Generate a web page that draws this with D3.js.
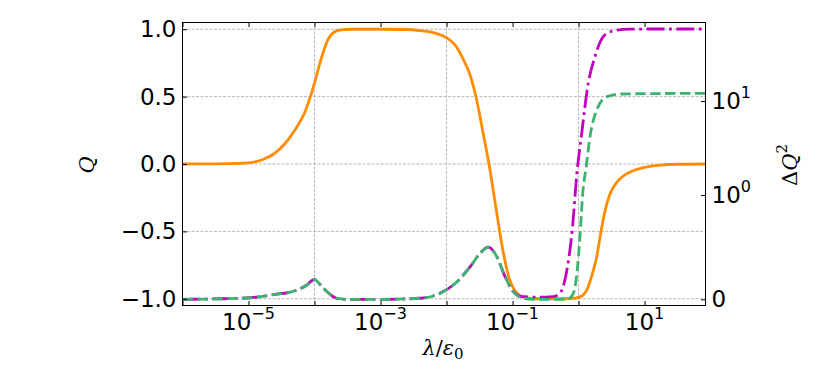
<!DOCTYPE html>
<html>
<head>
<meta charset="utf-8">
<script src="https://cdn.jsdelivr.net/npm/d3@7/dist/d3.min.js"></script>
<style>
  body { margin: 0; background: #fff; }
  .tick-label { font-family: "DejaVu Sans", sans-serif; font-size: 23px; fill: #000; }
  .math { font-family: "DejaVu Serif", "Liberation Serif", serif; font-size: 21px; fill: #000; }
</style>
</head>
<body>
<div id="chart"></div>
<script>
// exponents of lambda/eps0 (log10) and values
var qExp = [-6.0, -5.5, -5.2, -5.0, -4.8, -4.6, -4.45, -4.3, -4.15, -4.0, -3.9, -3.8, -3.7, -3.6, -3.45,
            -3.0, -2.6, -2.4, -2.2, -2.05, -1.95, -1.85, -1.75, -1.65, -1.55, -1.45, -1.35, -1.25, -1.15, -1.05, -0.95, -0.85, -0.7, -0.5,
            -0.2, -0.05, 0.05, 0.12, 0.2, 0.27, 0.33, 0.4, 0.47, 0.55, 0.65, 0.8, 1.0, 1.25, 1.5, 1.93];
var qVal = [0, 0.001, 0.004, 0.009, 0.03, 0.08, 0.15, 0.25, 0.38, 0.6, 0.78, 0.92, 0.98, 0.995, 1.0,
            1.0, 0.998, 0.99, 0.975, 0.95, 0.92, 0.87, 0.78, 0.67, 0.49, 0.24, -0.02, -0.33, -0.63, -0.85, -0.95, -0.985, -0.998, -1.0,
            -1.0, -0.995, -0.98, -0.94, -0.83, -0.7, -0.53, -0.35, -0.23, -0.155, -0.1, -0.055, -0.025, -0.008, -0.002, 0];

var magExp = [-6.0, -5.5, -4.974, -4.57, -4.368, -4.116, -4.005, -3.864, -3.713, -3.66, -3.5, -3.0, -2.4, -2.098, -1.897, -1.644, -1.493, -1.367, -1.24, -1.114, -0.989, -0.837, -0.585, -0.388, -0.282, -0.207, -0.131, -0.096, -0.029, 0.047, 0.147, 0.248, 0.374, 0.525, 0.778, 1.93];
var magVal = [0, 0.004, 0.015, 0.05, 0.068, 0.137, 0.19, 0.105, 0.025, 0.008, 0, 0, 0.01, 0.058, 0.137, 0.31, 0.44, 0.5, 0.41, 0.217, 0.073, 0.025, 0.02, 0.025, 0.058, 0.185, 0.47, 0.66, 1.6, 4.5, 15.5, 29.7, 48.5, 56, 58.5, 58.6];

var grnExp = [-6.0, -5.5, -4.974, -4.57, -4.368, -4.116, -4.005, -3.864, -3.713, -3.66, -3.5, -3.0, -2.4, -2.098, -1.897, -1.644, -1.493, -1.367, -1.24, -1.114, -0.989, -0.837, -0.7, -0.191, -0.131, -0.071, -0.025, 0.021, 0.066, 0.112, 0.173, 0.274, 0.425, 0.626, 1.93];
var grnVal = [0, 0.004, 0.015, 0.05, 0.068, 0.137, 0.19, 0.105, 0.025, 0.008, 0, 0, 0.01, 0.058, 0.137, 0.31, 0.44, 0.5, 0.41, 0.217, 0.073, 0.01, 0, 0, 0.012, 0.07, 0.25, 0.6, 1.1, 1.9, 4.16, 8.0, 11.1, 11.9, 12.1];

var xTickExp = [-6, -5, -4, -3, -2, -1, 0, 1];
var xLabelExp = [-5, -3, -1, 1];
var xGridExp = [-4, -2, 0];
var qTicks = [-1.0, -0.5, 0.0, 0.5, 1.0];
var rTicks = [0, 1, 10];

var width = 830, height = 369;
var pL = 182.5, pR = 705.5, pT = 22.5, pB = 305.5;

var svg = d3.select("#chart").append("svg")
  .attr("width", width)
  .attr("height", height);

var x = d3.scaleLog().domain([1e-6, Math.pow(10, 1.923)]).range([pL, pR]);
var yL = d3.scaleLinear().domain([-1.05, 1.05]).range([pB, pT]);

// matplotlib-like symlog (linthresh 1, linscale 1)
function symT(v) {
  return v <= 1 ? v / 0.9 : 1 / 0.9 + Math.log10(v);
}
var yT = d3.scaleLinear().domain([-0.066, 2.948]).range([pB, pT]);
function yR(v) { return yT(symT(v)); }

function pts(ex, vals) {
  return ex.map(function(e, i) { return {x: Math.pow(10, e), v: vals[i]}; });
}

// grid
var grid = svg.append("g")
  .attr("stroke", "#b0b0b0")
  .attr("stroke-width", 0.9)
  .attr("stroke-dasharray", "3,1.5");
grid.selectAll(".gx").data(xGridExp).enter().append("line")
  .attr("x1", function(d) { return x(Math.pow(10, d)); })
  .attr("x2", function(d) { return x(Math.pow(10, d)); })
  .attr("y1", pT).attr("y2", pB);
grid.selectAll(".gy").data(qTicks).enter().append("line")
  .attr("y1", function(d) { return yL(d); })
  .attr("y2", function(d) { return yL(d); })
  .attr("x1", pL).attr("x2", pR);

svg.append("clipPath").attr("id", "plotclip")
  .append("rect").attr("x", pL).attr("y", pT)
  .attr("width", pR - pL).attr("height", pB - pT);

var plot = svg.append("g").attr("clip-path", "url(#plotclip)");

var lineQ = d3.line()
  .x(function(d) { return x(d.x); })
  .y(function(d) { return yL(d.v); })
  .curve(d3.curveMonotoneX);
var lineR = d3.line()
  .x(function(d) { return x(d.x); })
  .y(function(d) { return yR(d.v); })
  .curve(d3.curveMonotoneX);

plot.append("path")
  .datum(pts(qExp, qVal))
  .attr("d", lineQ)
  .attr("fill", "none")
  .attr("stroke", "#ff8c00")
  .attr("stroke-width", 2.8);

plot.append("path")
  .datum(pts(magExp, magVal))
  .attr("d", lineR)
  .attr("fill", "none")
  .attr("stroke", "#bf00bf")
  .attr("stroke-width", 2.8)
  .attr("stroke-dasharray", "18,4.5,2.8,4.5");

plot.append("path")
  .datum(pts(grnExp, grnVal))
  .attr("d", lineR)
  .attr("fill", "none")
  .attr("stroke", "#3cb371")
  .attr("stroke-width", 2.8)
  .attr("stroke-dasharray", "10.4,4.5");

// ticks (all pointing in)
var tl = 4.5;
var xTickVals = xTickExp.map(function(e) { return Math.pow(10, e); });
svg.append("g")
  .attr("transform", "translate(0," + pB + ")")
  .call(d3.axisBottom(x).tickValues(xTickVals).tickSize(-tl).tickFormat(""))
  .call(function(g) { g.select(".domain").remove(); });
svg.append("g")
  .attr("transform", "translate(0," + pT + ")")
  .call(d3.axisTop(x).tickValues(xTickVals).tickSize(-tl).tickFormat(""))
  .call(function(g) { g.select(".domain").remove(); });
svg.append("g")
  .attr("transform", "translate(" + pL + ",0)")
  .call(d3.axisLeft(yL).tickValues(qTicks).tickSize(-tl).tickFormat(""))
  .call(function(g) { g.select(".domain").remove(); });
svg.append("g")
  .attr("transform", "translate(" + pR + ",0)")
  .call(d3.axisRight(yT).tickValues(rTicks.map(symT)).tickSize(-tl).tickFormat(""))
  .call(function(g) { g.select(".domain").remove(); });

svg.selectAll(".tick line").attr("stroke", "#000").attr("stroke-width", 1);

// frame
svg.append("rect")
  .attr("x", pL).attr("y", pT)
  .attr("width", pR - pL).attr("height", pB - pT)
  .attr("fill", "none").attr("stroke", "#000").attr("stroke-width", 1);

// left tick labels
svg.selectAll(".ql").data(qTicks).enter().append("text")
  .attr("class", "tick-label")
  .attr("x", pL - 6)
  .attr("y", function(d) { return yL(d) + 8; })
  .attr("text-anchor", "end")
  .text(function(d) { return (d < 0 ? "\u2212" : "") + Math.abs(d).toFixed(1); });

// bottom tick labels 10^n
var xl = svg.selectAll(".xl").data(xLabelExp).enter().append("text")
  .attr("class", "tick-label")
  .attr("x", function(d) { return x(Math.pow(10, d)); })
  .attr("y", 330)
  .attr("text-anchor", "middle");
xl.append("tspan").text("10");
xl.append("tspan")
  .attr("dy", -11)
  .attr("font-size", "16px")
  .text(function(d) { return d < 0 ? "\u2212" + Math.abs(d) : d; });

// right tick labels
var rl = svg.selectAll(".rl").data(rTicks).enter().append("text")
  .attr("class", "tick-label")
  .attr("x", pR + 6)
  .attr("y", function(d) { return yR(d) + 8; });
rl.append("tspan").text(function(d) { return d === 0 ? "0" : "10"; });
rl.filter(function(d) { return d > 0; }).append("tspan")
  .attr("dy", -11)
  .attr("font-size", "16px")
  .text(function(d) { return Math.round(Math.log10(d)); });

// axis titles
var xt = svg.append("text")
  .attr("class", "math")
  .attr("x", 443).attr("y", 355)
  .attr("text-anchor", "middle");
xt.append("tspan").attr("font-style", "italic").text("\u03bb");
xt.append("tspan").text("/");
xt.append("tspan").attr("font-style", "italic").text("\u03b5");
xt.append("tspan").attr("dy", 4).attr("font-size", "15px").text("0");

svg.append("text")
  .attr("class", "math")
  .attr("font-style", "italic")
  .attr("transform", "translate(94,165) rotate(-90)")
  .attr("text-anchor", "middle")
  .text("Q");

var rt = svg.append("text")
  .attr("class", "math")
  .attr("transform", "translate(797,165) rotate(-90)")
  .attr("text-anchor", "middle");
rt.append("tspan").text("\u0394");
rt.append("tspan").attr("font-style", "italic").text("Q");
rt.append("tspan").attr("dy", -10).attr("font-size", "15px").text("2");
</script>
</body>
</html>
